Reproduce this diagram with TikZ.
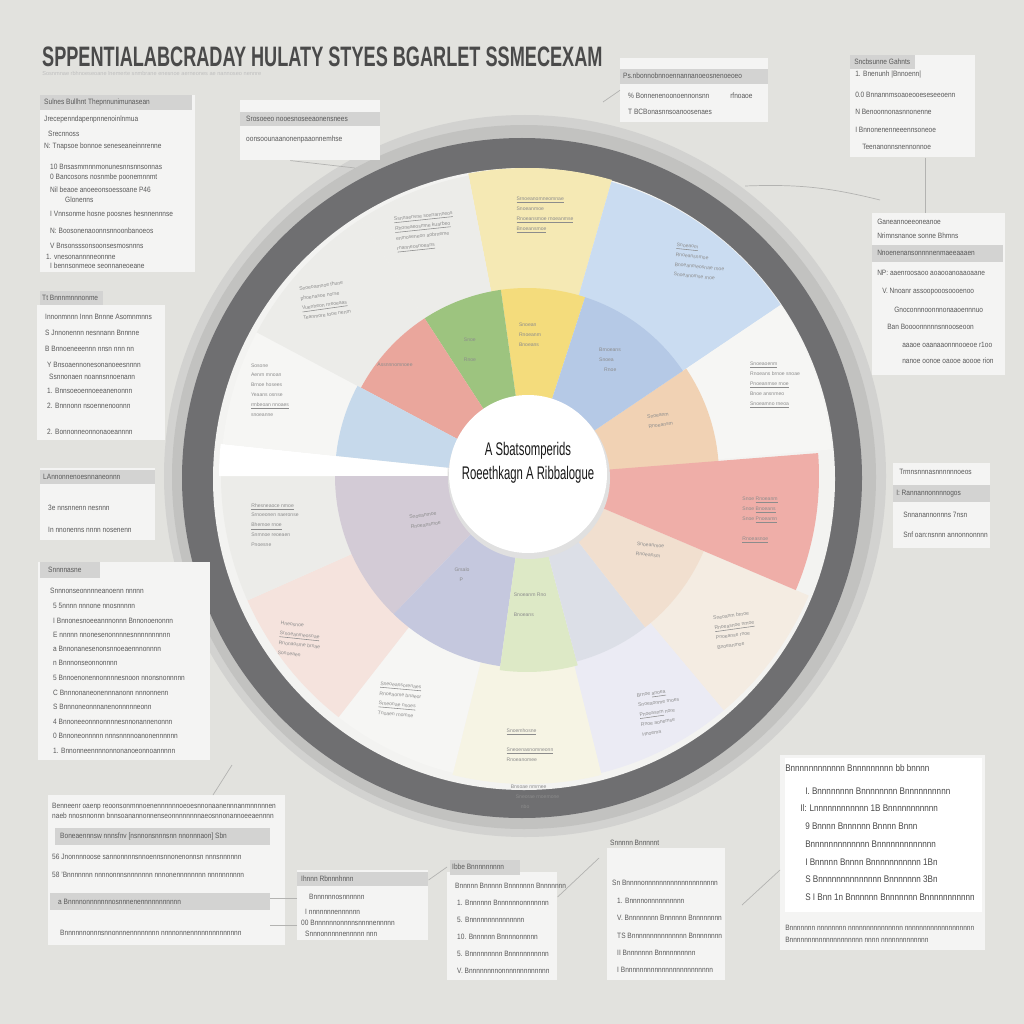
\documentclass[tikz,border=0pt]{standalone}
\usepackage{fontspec}
\setmainfont{Liberation Sans}
\usetikzlibrary{calc}
\definecolor{bgc}{HTML}{E2E2DE}
\definecolor{ringl}{HTML}{C2C2C0}
\definecolor{ringll}{HTML}{D2D2D0}
\definecolor{ringd}{HTML}{6F6F71}
\definecolor{diskc}{HTML}{F3F3F1}
\definecolor{yelI}{HTML}{F4DC7C}
\definecolor{yelO}{HTML}{F5E9B4}
\definecolor{grnI}{HTML}{9DC47F}
\definecolor{redI}{HTML}{EAA69C}
\definecolor{lbluI}{HTML}{C6D9EB}
\definecolor{bluI}{HTML}{B5C9E6}
\definecolor{bluO}{HTML}{CADCF1}
\definecolor{pchI}{HTML}{F1D2B4}
\definecolor{redR}{HTML}{EFAEA8}
\definecolor{mauI}{HTML}{D3CBD6}
\definecolor{slaI}{HTML}{C5C8DE}
\definecolor{grnB}{HTML}{DDE9C6}
\definecolor{gblI}{HTML}{DCDFE7}
\definecolor{pchB}{HTML}{F1DFCF}
\definecolor{wO1}{HTML}{ECECE9}
\definecolor{wO2}{HTML}{F6F6F4}
\definecolor{pnkO}{HTML}{F5E3DD}
\definecolor{ywO}{HTML}{F6F4E4}
\definecolor{lavO}{HTML}{EBEBF4}
\definecolor{pchO}{HTML}{F4ECE2}
\definecolor{boxc}{HTML}{F4F4F3}
\definecolor{hdrc}{HTML}{D3D3D2}
\definecolor{txtc}{HTML}{5A5A5A}
\definecolor{scrc}{HTML}{8C8C8C}
\definecolor{connc}{HTML}{B3B3B1}
\definecolor{titc}{HTML}{4A4A4A}

\tikzset{
  boxst/.style={fill=boxc, draw=none, anchor=north west, inner sep=0pt},
  hdr/.style={fill=hdrc},
  txt/.style={font=\fontsize{5.5}{6}\selectfont, text=txtc, anchor=west, inner sep=0pt, xscale=0.85},
  bigtxt/.style={font=\fontsize{6.8}{7}\selectfont, text=txtc!80!black, anchor=west, inner sep=0pt, xscale=0.85},
  scrib/.style={font=\fontsize{3.6}{7}\selectfont, text=scrc, align=left, inner sep=0pt},
  conn/.style={draw=connc, line width=0.5pt},
}

\newcommand\seg[5]{\fill[#1] ($(C)+(#2:#4)$) arc[start angle=#2,end angle=#3,radius=#4] -- ($(C)+(#3:#5)$) arc[start angle=#3,end angle=#2,radius=#5] -- cycle;}
\newcommand\blines[3][txt]{\foreach \dx/\dy/\t [count=\i] in {#3} {\node[#1] (#2-\i) at ($(#2.north west)+(\dx,-\dy)$) {\t};}}
\newcommand\nbox[5]{\node[boxst, minimum width=#4*0.025cm, minimum height=#5*0.025cm] (#1) at (#2,-#3) {};}

\begin{document}
\begin{tikzpicture}[x=0.025cm, y=0.025cm]
\useasboundingbox (0,0) rectangle (1024,-1024);
\fill[bgc] (0,0) rectangle (1024,-1024);

% ---------- title ----------
\node[font=\bfseries\fontsize{20}{20}\selectfont, text=titc, xscale=0.645, anchor=west, inner sep=0pt] (title) at (42,-57) {SPPENTIALABCRADAY HULATY STYES BGARLET SSMECEXAM};
\node[font=\fontsize{4}{4}\selectfont, text=black!25, anchor=west, inner sep=0pt] (subtitle) at (42,-73) {Sosnmnae rbhnoeseoane lnemerte snmbrane enesnoe aerneones ae nannoseo nennre};

% ---------- wheel ----------
\coordinate (C) at (527,-476);
\fill[ringll] (525,-476) circle[radius=361];
\fill[ringl] (524,-477) circle[radius=352];
\fill[ringd] (522,-478) circle[radius=340];
\fill[diskc] (524,-479) circle[radius=311];

% outer ring segments
\seg{yelO}{74}{101}{185}{308}
\seg{bluO}{34}{74}{185}{306}
\seg{wO2}{5}{34}{185}{306}
\seg{pchO}{-50}{-23}{185}{306}
\seg{lavO}{-76}{-50}{185}{306}
\seg{ywO}{-104}{-76}{185}{308}
\seg{wO2}{-128}{-104}{185}{306}
\seg{pnkO}{-156}{-128}{185}{306}
\seg{wO1}{-184}{-156}{185}{306}
\seg{white}{174}{180}{80}{308}
\seg{wO2}{152}{174}{185}{306}
\seg{wO1}{123}{152}{185}{306}
\seg{wO1}{101}{123}{185}{306}

% inner ring segments
\seg{yelI}{72}{98}{78}{188}
\seg{grnI}{98}{123}{78}{188}
\seg{redI}{123}{152}{78}{188}
\seg{lbluI}{152}{174}{78}{192}
\seg{mauI}{180}{226}{78}{192}
\seg{slaI}{226}{262}{78}{192}
\seg{grnB}{262}{285}{78}{196}
\seg{gblI}{285}{308}{78}{192}
\seg{pchB}{308}{337}{78}{192}
\seg{pchI}{4}{34}{78}{192}
\seg{bluI}{34}{72}{78}{188}
\seg{redR}{-23}{4.5}{78}{292}

% scribbles in sectors
\node[scrib, rotate=6] (s1) at (425,-232) {\underline{Ssnnaenvne sonnarnneos}\\ \underline{Rhoneaeosmne kuarbeo}\\ enmoseneon aobrneme\\ \underline{rnanneosnoeans}};
\node[scrib, rotate=8] (s2) at (325,-300) {Snoeoamnoe fhune\\ phoenasoe norse\\ \underline{Vuenheon rneoeaas}\\ Teanmore tooe nenm};
\node[scrib] (s3) at (270,-390) {Sosone\\ Aenrn mnoan\\ Brnoe hosees\\ Yeaans osnse\\ \underline{rmbeoan nnoaes}\\ snoeanne};
\node[scrib] (s4) at (275,-525) {\underline{Rhesneaoce nmoe}\\ Srnoeonen naeronse\\ \underline{Bhemoe rnoe}\\ Snmnoe reoeaen\\ Pnoesne};
\node[scrib, rotate=-6] (s5) at (300,-640) {Hneosnoe\\ \underline{Srnoeanmeosnae}\\ Rnonaosme brnae\\ Sonoeaen};
\node[scrib, rotate=-5] (s6) at (400,-700) {\underline{Sneoeansorenaes}\\ Rnoeaome bnaeor\\ \underline{Srneonae nnoes}\\ Tnoaen rnomne};
\node[scrib] (s7) at (530,-745) {\underline{Snoemhosne}\\ \\ \underline{Sneoenasnomneonn}\\ Rnoeanomee};
\node[scrib] (s8) at (535,-797) {Bnsoae nmrnee\\ \quad Sneorae rnoemone\\ \quad\quad nbo};
\node[scrib, rotate=8] (s9) at (660,-712) {Brnoe \underline{anoea}\\ Snoeaonme rnoes\\ \underline{Pnoeasnm} nore\\ Rnoe aonemse\\ Hnoema};
\node[scrib, rotate=8] (s10) at (735,-630) {Sneoanm brnoe\\ \underline{Rnoeasnoe nmoe}\\ Pnoeanse rnoe\\ Bnoeanmoe};
\node[scrib] (s11) at (775,-385) {\underline{Snoeaoenm}\\ Rnoeans brnoe snoae\\ \underline{Pnoeanmse rnoe}\\ Bnoe ansnmeo\\ \underline{Snoeamno rneoa}};
\node[scrib, rotate=-6] (s12) at (700,-262) {\underline{Snoeaom}\\ Rnoeansnmoe\\ Bnoeanmeosnae rnoe\\ Snoeanomse rnoe};
\node[scrib] (s13) at (545,-215) {\underline{Srnoeanomneomnae}\\ Snoeanmoe\\ \underline{Rnoeansmoe rnoeanmse}\\ \underline{Bnoeansmoe}};
\node[scrib] (s14) at (760,-520) {Snoe \underline{Rnoeanm}\\ Snoe \underline{Bnoeans}\\ Snoe \underline{Pnoeamn}\\ \\ \underline{Rnoeasnoe}};
\node[scrib] (s15) at (395,-365) {Assnnnomnoee};
\node[scrib] (s16) at (470,-350) {Snoe\\ \\ Rnoe};
\node[scrib] (s17) at (530,-335) {Snoean\\ Rnoeanm\\ Bnoeans};
\node[scrib] (s18) at (610,-360) {Brnoeans\\ Snoea\\ \quad Rnoe};
\node[scrib, rotate=8] (s19) at (660,-420) {Snoeanm\\ Rnoeansm};
\node[scrib, rotate=-6] (s20) at (650,-550) {Snoeanmoe\\ Rnoeansm};
\node[scrib, rotate=8] (s21) at (425,-520) {Snoeanmoe\\ Rnoeansmoe};
\node[scrib] (s22) at (462,-575) {Grsalo\\ \quad P};
\node[scrib] (s23) at (530,-605) {Snoeanm Rno\\ \\ Bnoeans};

% center
\fill[black!12] (529,-478) circle[radius=81];
\node[circle, fill=white, minimum size=158*0.025cm, inner sep=0pt] (hub) at (528,-474) {};
\node[font=\fontsize{13}{17}\selectfont, align=center, xscale=0.62, text=black!90] (hubtext) at (528,-463) {A Sbatsomperids\\Roeethkagn A Ribbalogue};

% ---------- boxes ----------
% B1
\nbox{B1}{40}{95}{155}{177}
\fill[hdr] (40,-95) rectangle (192,-110);
\blines{B1}{4/8/Sulnes Bullhnt Thepnnunimunasean, 4/25/Jrecepenndapenpnnenoinlnmua, 8/39/Srecnnoss, 4/52/N: Tnapsoe bonnoe seneseaneinnrenne, 10/72/10 Bnsasmmnnmonunesnnsnnsonnas, 10/83/0 Bancosons nosnmbe poonemnnmt, 10/95/Nil beaoe anoeeonsoessoane  P46, 25/105/Glonenns, 10/120/I  Vnnsonme hosne poosnes hesnnennnse, 10/136/N: Boosonenaoonnsnnoonbanoeos, 10/151/V  Bnsonsssonsoonsesmosnnns, 6/162/1. vnesonannnneonnne, 10/171/I  bennsonmeoe seonnaneoeane}
% B2
\nbox{B2}{240}{100}{140}{60}
\fill[hdr] (240,-112) rectangle (380,-126);
\blines{B2}{6/19/Srosoeeo nooesnoseeaonensnees, 6/40/oonsoounaanonenpaaonnemhse}
% B3
\nbox{B3}{620}{58}{148}{64}
\fill[hdr] (620,-69) rectangle (768,-84);
\blines{B3}{3/18/Ps.nbonnobnnoennannanoeosnenoeoeo, 8/38/\%  Bonnenenoonoennonsnn, 110/38/rfnoaoe, 8/54/T  BCBonasnnsoanoosenaes}
% B4
\nbox{B4}{850}{55}{125}{102}
\fill[hdr] (850,-55) rectangle (915,-69);
\blines{B4}{4/7/Sncbsunne Gahnts, 5/20/1. Bnenunh |Bnnoenn|, 5/40/0.0 Bnnannmsoaoeooeseseeoenn, 5/57/N  Benoonnonasnnonenne, 5/75/I  Bnnonenenneeennsoneoe, 12/92/Teenanonnsnennonnoe}
% B5
\nbox{B5}{872}{213}{133}{162}
\fill[hdr] (872,-245) rectangle (1003,-262);
\blines{B5}{5/9/Ganeannoeeoneanoe, 5/23/Nrimnsnanoe sonne Bhmns, 5/40/Nnoenenansonnnnenmaeeaaaen, 5/60/NP: aaenroosaoo  aoaooanoaaoaane, 10/79/V. Nnoanr assoopooosoooenoo, 22/97/Gnoconnnoonnnonaaoennnuo, 15/114/Ban Boooonnnnnsnnooseoon, 30/132/aaaoe oaanaaonnnooeoe r1oo, 30/148/nanoe oonoe oaooe aoooe rion}
% B6
\nbox{B6}{893}{463}{97}{85}
\fill[hdr] (893,-485) rectangle (990,-502);
\blines{B6}{6/9/Trmnsnnnasnnnnnnoeos, 3/31/I: Rannannonnnnogos, 10/52/Snnanannonnns 7nsn, 10/72/Snf oan:nsnnn annonnonnnn}
% B7
\nbox{B7}{37}{305}{128}{135}
\fill[hdr] (40,-291) rectangle (103,-305);
\node[txt] (B7h) at (42,-298) {Tt  Bnnnmnnnonme};
\blines{B7}{8/12/Innonmnnn Innn Bnnne Asomnmnns, 8/28/S  Jnnonennn nesnnann Bnnnne, 8/44/B  Bnnoeneeennn nnsn nnn nn, 10/60/Y  Bnsoaennonesonanoeesnnnn, 12/72/Ssnnonaen noannsnnoenann, 10/86/1. Bnnsoeoennoeeanenonnn, 10/101/2. Bnnnonn nsoennenoonnn, 10/127/2. Bonnonneonnonaoeannnn}
% B8
\nbox{B8}{40}{468}{115}{72}
\fill[hdr] (40,-470) rectangle (155,-484);
\blines{B8}{3/9/LAnnonnenoesnnaneonnn, 8/40/3e nnsnnenn nesnnn, 8/62/In nnonenns nnnn nosenenn}
% B9
\nbox{B9}{38}{562}{172}{198}
\fill[hdr] (40,-562) rectangle (100,-578);
\blines{B9}{10/8/Snnnnasne, 12/29/Snnnonseonnnneanoenn nnnnn, 15/44/5  5nnnn nnnone nnosnnnnn, 15/59/I  Bnnonesnoeeannnonnn Bnnonoenonnn, 15/73/E  nnnnn nnonesenonnnnesnnnnnnnnnn, 15/87/a  Bnnonanesenonsnnoeaennnonnnn, 15/101/n  Bnnnonseonnonnnn, 15/116/5  Bnnoenonennonnnnesnoon nnonsnonnnnn, 15/131/C  Bnnnonaneonennnanonn nnnonnenn, 15/145/S  Bnnnoneonnnanenonnnnneonn, 15/160/4  Bnnoneeonnnonnnnesnnonannenonnn, 15/174/0  Bnnoneonnnnn nnnsnnnnoanonennnnnn, 15/189/1. Bnnonneennnnonnonanoeonnoannnnn}
% B10
\nbox{B10}{48}{795}{237}{150}
\fill[hdr] (55,-828) rectangle (270,-845);
\fill[hdr] (50,-893) rectangle (270,-910);
\blines{B10}{4/12/Benneenr oaenp reoonsonmnnoenennnnnnoeoesnnonaanennnanmnnnnnen, 4/21/naeb nnosnnonnn bnnsoanannonnenseonnnnnnnnaeosnnonannoeeaennnn, 12/41/Boneaennnsw nnnsfnv [nsnnonsnnnsnn nnonnnaon] Sbn, 4/62/56 Jnonnnnoose sannonnnnsnnoennsnnonenonnsn nnnsnnnnnn, 4/80/58 'Bnnnnnnn nnnnonnnsnnnnnnn nnnonennnnnnnn nnnnnnnnnn, 10/107/a  Bnnnnonnnnnnnosnnnenennnnnnnnnnn, 12/138/Bnnnnnnonnnsnnonnnennnnnnnn nnnnonnennnnnnnnnnnnnn}
% B11
\nbox{B11}{297}{870}{131}{70}
\fill[hdr] (297,-872) rectangle (428,-886);
\blines{B11}{4/9/Ihnnn Rbnnnhnnn, 12/27/Bnnnnnnosnnnnnn, 8/42/I  nnnnnnnennnnnn, 4/53/00 Bnnnnnnonnnnsnnnnennnnn, 8/64/Snnnonnnnnennnnn nnn}
% B12
\nbox{B12}{447}{872}{110}{108}
\fill[hdr] (450,-860) rectangle (520,-875);
\node[txt] (B12h) at (452,-867) {Ibbe Bnnnnnnnnn};
\blines{B12}{8/14/Bnnnnn Bnnnnn Bnnnnnnn Bnnnnnnn, 10/31/1.  Bnnnnnn Bnnnnnnonnnnnnn, 10/48/5.  Bnnnnnnnnnnnnnnn, 10/65/10. Bnnnnnn Bnnnnonnnnn, 10/82/5.  Bnnnnnnnnn Bnnnnnnnnnnn, 10/99/V.  Bnnnnnnnnonnnnnnnnnnnnn}
% B13
\nbox{B13}{607}{848}{118}{132}
\node[txt] (B13h) at (610,-843) {Snnnnn Bnnnnnt};
\blines{B13}{5/35/Sn Bnnnnonnnnnnnnnnnnnnnnnnnn, 10/53/1.  Bnnnnonnnnnnnnnn, 10/70/V.  Bnnnnnnnn Bnnnnnn Bnnnnnnnn, 10/88/TS  Bnnnnnnnnnnnnnnn Bnnnnnnnn, 10/105/II  Bnnnnnnn Bnnnnnnnnnn, 10/122/I   Bnnnnnnnnnnnnnnnnnnnnnnnn}
% B14
\nbox{B14}{780}{755}{205}{195}
\fill[white] (785,-758) rectangle (982,-912);
\blines[bigtxt]{B14}{5/13/Bnnnnnnnnnnnn Bnnnnnnnnn bb bnnnn, 25/36/I. Bnnnnnnnn Bnnnnnnnn Bnnnnnnnnnn, 20/53/Il: Lnnnnnnnnnnnn 1B Bnnnnnnnnnnn, 25/71/9  Bnnnn Bnnnnnn Bnnnn Bnnn, 25/89/Bnnnnnnnnnnnnn Bnnnnnnnnnnnnn, 25/107/I  Bnnnnn Bnnnn Bnnnnnnnnnnn 1Bn, 25/124/S  Bnnnnnnnnnnnnnn Bnnnnnnn 3Bn, 25/142/S  I Bnn 1n Bnnnnnn Bnnnnnnn Bnnnnnnnnnnn}
\node[txt] (B14a) at (785,-928) {Bnnnnnnn nnnnnnnn nnnnnnnnnnnnnnn nnnnnnnnnnnnnnnnnnn};
\node[txt] (B14b) at (785,-940) {Bnnnnnnnnnnnnnnnnnnnn nnnn nnnnnnnnnnnnn};

% ---------- connectors ----------
\coordinate (p1) at (355,-168);
\draw[conn] ($(B2.south)+(-20,0)$) -- (p1);
\coordinate (p2) at (745,-186);
\coordinate (p3) at (880,-200);
\draw[conn] (p2) to[bend left=8] (p3);
\draw[conn] ($(B4.south west)+(75,0)$) -- ($(B5.north west)+(53,0)$);
\coordinate (p4) at (232,-765);
\draw[conn] ($(B10.north west)+(165,0)$) -- (p4);
\draw[conn] ($(B11.north west)+(0,-28)$) -- ++(-27,0);
\draw[conn] ($(B11.north west)+(0,-55)$) -- ++(-27,0);
\coordinate (p5) at (742,-905);
\draw[conn] ($(B14.north west)+(0,-115)$) -- (p5);
\draw[conn] ($(B12.north east)+(0,-25)$) -- ($(B13.north west)+(-8,-10)$);
\draw[conn] ($(B11.north east)+(0,-10)$) -- ($(B12.north west)+(0,5)$);
\coordinate (p6) at (603,-102);
\draw[conn] (B3.west) -- (p6);
\end{tikzpicture}
\end{document}
